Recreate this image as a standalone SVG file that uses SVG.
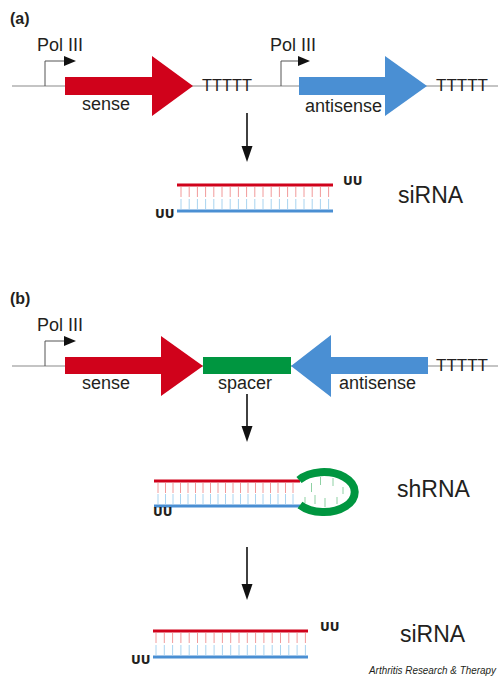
<svg xmlns="http://www.w3.org/2000/svg" width="500" height="679" viewBox="0 0 500 679">
<defs>
<style>
.lbl{font-family:"Liberation Sans",Arial,sans-serif;font-size:18px;fill:#231f20}
.big{font-family:"Liberation Sans",Arial,sans-serif;font-size:23px;fill:#231f20}
.hdr{font-family:"Liberation Sans",Arial,sans-serif;font-size:16px;font-weight:bold;fill:#231f20}
.tt{font-family:"Liberation Sans",Arial,sans-serif;font-size:16px;fill:#231f20}
.uu{font-family:"DejaVu Sans",sans-serif;font-size:12px;font-weight:bold;fill:#231f20}
.cred{font-family:"Liberation Sans",Arial,sans-serif;font-size:10px;font-style:italic;fill:#231f20}
.dna{stroke:#8a8a8a;stroke-width:1.2;fill:none}
.prom{stroke:#555;stroke-width:1;fill:none}
.red{fill:#d0021b}
.blue{fill:#4a8fd3}
.green{fill:#009640}
.rs{stroke:#d0021b;stroke-width:3}
.bs{stroke:#4a8fd3;stroke-width:3}
.rt{stroke:#f19a9a;stroke-width:1}
.bt{stroke:#a9d4f0;stroke-width:1}
.gt{stroke:#8fd1a4;stroke-width:1}
.arr{stroke:#111;stroke-width:1.6}
</style>
</defs>

<!-- Panel a -->
<g id="panel-a-label"><text class="hdr" x="10" y="24">(a)</text></g>
<g id="dna-a"><line class="dna" x1="12" y1="86" x2="498" y2="86"/></g>
<g id="promoter-a1">
<polyline class="prom" points="45,86 45,61 66,61"/>
<polygon points="64,56 76,61 64,66" fill="#111"/>
<text class="lbl" x="37" y="51">Pol III</text>
</g>
<g id="sense-a">
<polygon class="red" points="65,77 152,77 152,56 193,86 152,116 152,95 65,95"/>
<text class="lbl" x="82" y="110">sense</text>
</g>
<g id="term-a1"><text class="tt" x="202" y="91" textLength="50" lengthAdjust="spacingAndGlyphs">TTTTT</text></g>
<g id="promoter-a2">
<polyline class="prom" points="281,86 281,61 300,61"/>
<polygon points="298,56 310,61 298,66" fill="#111"/>
<text class="lbl" x="270" y="51">Pol III</text>
</g>
<g id="antisense-a">
<polygon class="blue" points="299,77 385,77 385,56 427,86 385,116 385,95 299,95"/>
<text class="lbl" x="305" y="112">antisense</text>
</g>
<g id="term-a2"><text class="tt" x="436" y="91" textLength="52" lengthAdjust="spacingAndGlyphs">TTTTT</text></g>

<g id="sirna-a">
<line class="rs" x1="177" y1="185" x2="333" y2="185"/>
<line class="bs" x1="177" y1="211" x2="333" y2="211"/>
<path class="rt" d="M181,187V197M189.2,187V197M197.4,187V197M205.6,187V197M213.8,187V197M222,187V197M230.2,187V197M238.4,187V197M246.6,187V197M254.8,187V197M263,187V197M271.2,187V197M279.4,187V197M287.6,187V197M295.8,187V197M304,187V197M312.2,187V197M320.4,187V197M328.6,187V197"/>
<path class="bt" d="M181,199V209M189.2,199V209M197.4,199V209M205.6,199V209M213.8,199V209M222,199V209M230.2,199V209M238.4,199V209M246.6,199V209M254.8,199V209M263,199V209M271.2,199V209M279.4,199V209M287.6,199V209M295.8,199V209M304,199V209M312.2,199V209M320.4,199V209M328.6,199V209"/>
<text class="uu" x="343" y="185">UU</text>
<text class="uu" x="155" y="218">UU</text>
<text class="big" x="398" y="203">siRNA</text>
</g>

<!-- Panel b -->
<g id="panel-b-label"><text class="hdr" x="10" y="304">(b)</text></g>
<g id="dna-b"><line class="dna" x1="12" y1="366" x2="498" y2="366"/></g>
<g id="promoter-b">
<polyline class="prom" points="45,366 45,341 66,341"/>
<polygon points="64,336 76,341 64,346" fill="#111"/>
<text class="lbl" x="37" y="331">Pol III</text>
</g>
<g id="sense-b">
<polygon class="red" points="65,357 161,357 161,336 203,366 161,396 161,374 65,374"/>
<text class="lbl" x="82" y="389">sense</text>
</g>
<g id="spacer-b">
<rect class="green" x="203" y="357" width="88" height="17"/>
<text class="lbl" x="218" y="389">spacer</text>
</g>
<g id="antisense-b">
<polygon class="blue" points="291,366 331,335 331,357 428,357 428,374 331,374 331,397"/>
<text class="lbl" x="339" y="389">antisense</text>
</g>
<g id="term-b"><text class="tt" x="436" y="371" textLength="52" lengthAdjust="spacingAndGlyphs">TTTTT</text></g>

<g id="shrna">
<line class="rs" x1="154" y1="481" x2="300" y2="481"/>
<line class="bs" x1="154" y1="506" x2="300" y2="506"/>
<path class="rt" d="M158,483V493M165.5,483V493M173,483V493M180.5,483V493M188,483V493M195.5,483V493M203,483V493M210.5,483V493M218,483V493M225.5,483V493M233,483V493M240.5,483V493M248,483V493M255.5,483V493M263,483V493M270.5,483V493M278,483V493M285.5,483V493M293,483V493"/>
<path class="bt" d="M158,494V504M165.5,494V504M173,494V504M180.5,494V504M188,494V504M195.5,494V504M203,494V504M210.5,494V504M218,494V504M225.5,494V504M233,494V504M240.5,494V504M248,494V504M255.5,494V504M263,494V504M270.5,494V504M278,494V504M285.5,494V504M293,494V504"/>
<path class="gt" d="M311.5,483V492M320.5,477V485M333,478V486M343,487V494M305,497V503M315,495V504M325,498V507M337,497V504"/>
<path d="M299,480 A31 20 0 1 1 300,505" fill="none" stroke="#009640" stroke-width="8"/>
<text class="uu" x="153" y="516">UU</text>
<text class="big" x="397" y="497">shRNA</text>
</g>

<g id="sirna-b">
<line class="rs" x1="153" y1="631" x2="308" y2="631"/>
<line class="bs" x1="153" y1="657" x2="308" y2="657"/>
<path class="rt" d="M156,633V643M164.3,633V643M172.6,633V643M180.9,633V643M189.2,633V643M197.5,633V643M205.8,633V643M214.1,633V643M222.4,633V643M230.7,633V643M239,633V643M247.3,633V643M255.6,633V643M263.9,633V643M272.2,633V643M280.5,633V643M288.8,633V643M297.1,633V643M305.4,633V643"/>
<path class="bt" d="M156,645V655M164.3,645V655M172.6,645V655M180.9,645V655M189.2,645V655M197.5,645V655M205.8,645V655M214.1,645V655M222.4,645V655M230.7,645V655M239,645V655M247.3,645V655M255.6,645V655M263.9,645V655M272.2,645V655M280.5,645V655M288.8,645V655M297.1,645V655M305.4,645V655"/>
<text class="uu" x="320" y="631">UU</text>
<text class="uu" x="131" y="664">UU</text>
<text class="big" x="400" y="642">siRNA</text>
</g>

<g id="connectors">
<line class="arr" x1="247" y1="113" x2="247" y2="148"/>
<polygon points="241.5,146 252.5,146 247,162" fill="#111"/>
<line class="arr" x1="247" y1="394" x2="247" y2="428"/>
<polygon points="241.5,426 252.5,426 247,442" fill="#111"/>
<line class="arr" x1="247" y1="547" x2="247" y2="586"/>
<polygon points="241.5,584 252.5,584 247,600" fill="#111"/>
</g>

<g id="credit"><text class="cred" x="369" y="674" textLength="127" lengthAdjust="spacingAndGlyphs">Arthritis Research &amp; Therapy</text></g>
</svg>
